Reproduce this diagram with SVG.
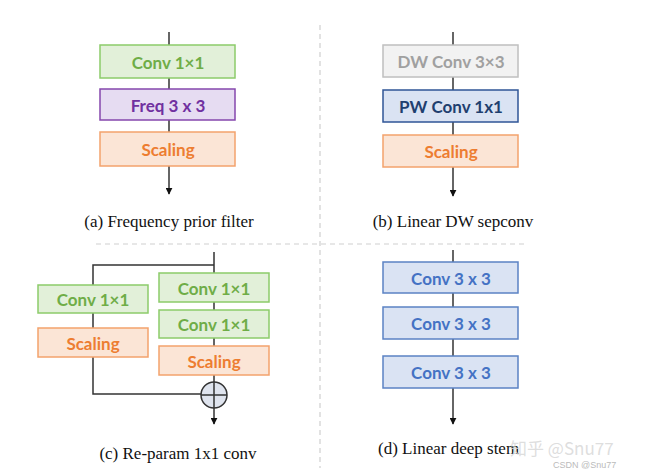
<svg xmlns="http://www.w3.org/2000/svg" width="650" height="473" viewBox="0 0 650 473">
<defs>
<marker id="arr" viewBox="0 0 10 10" refX="9" refY="5" markerWidth="7" markerHeight="7" markerUnits="userSpaceOnUse" orient="auto"><path d="M0,0 L10,5 L0,10 z" fill="#111"/></marker>
<style>
.lbl{font-family:Lato,"Open Sans",sans-serif;font-weight:bold;font-size:17px;text-anchor:middle;dominant-baseline:central}
.cap{font-family:"Liberation Serif",serif;font-size:17px;fill:#111}
.green rect{fill:#e2f0d9;stroke:#8ccb6a;stroke-width:1.5}
.green text{fill:#6fad47}
.purple rect{fill:#e6dcf2;stroke:#8547ad;stroke-width:1.5}
.purple text{fill:#7030a0}
.orange rect{fill:#fbe5d6;stroke:#f3a26c;stroke-width:1.5}
.orange text{fill:#ed7d31}
.gray rect{fill:#f2f2f2;stroke:#bfbfbf;stroke-width:1.5}
.gray text{fill:#a0a0a0}
.pw rect{fill:#dae3f3;stroke:#2f5597;stroke-width:1.5}
.pw text{fill:#1f3f6f}
.blue rect{fill:#dae3f3;stroke:#5b82c4;stroke-width:1.5}
.blue text{fill:#4472c4}
.ln{stroke:#333;stroke-width:1.5;fill:none}
.dash{stroke:#cfcfcf;stroke-width:1.2;stroke-dasharray:5 4;fill:none}
</style>
</defs>
<rect width="650" height="473" fill="#fff"/>
<line class="dash" x1="320" y1="25" x2="320" y2="468"/>
<line class="dash" x1="96" y1="244" x2="524" y2="244"/>
<g id="connectors">
<line class="ln" x1="169" y1="32" x2="169" y2="194" marker-end="url(#arr)"/>
<line class="ln" x1="453" y1="32" x2="453" y2="196" marker-end="url(#arr)"/>
<path class="ln" d="M214,252 V382 M93,285 V265 H214 M93,313 V394 H201"/>
<line class="ln" x1="214" y1="408" x2="214" y2="424" marker-end="url(#arr)"/>
<line class="ln" x1="453" y1="250" x2="453" y2="424" marker-end="url(#arr)"/>
</g>
<g id="a-conv" class="green"><rect x="100" y="45" width="135" height="33"/><text class="lbl" x="168" y="62">Conv 1×1</text></g>
<g id="a-freq" class="purple"><rect x="100" y="89" width="135" height="31"/><text class="lbl" x="168" y="105">Freq 3 x 3</text></g>
<g id="a-scale" class="orange"><rect x="100" y="132" width="135" height="34"/><text class="lbl" x="168" y="149">Scaling</text></g>
<text class="cap" x="169" y="227" text-anchor="middle">(a) Frequency prior filter</text>
<g id="b-dw" class="gray"><rect x="383" y="45" width="135" height="32"/><text class="lbl" x="451" y="61">DW Conv 3×3</text></g>
<g id="b-pw" class="pw"><rect x="383" y="90" width="135" height="32"/><text class="lbl" x="451" y="106">PW Conv 1x1</text></g>
<g id="b-scale" class="orange"><rect x="383" y="135" width="135" height="32"/><text class="lbl" x="451" y="151">Scaling</text></g>
<text class="cap" x="453" y="227" text-anchor="middle">(b) Linear DW sepconv</text>
<g id="c-lconv" class="green"><rect x="38" y="285" width="110" height="28"/><text class="lbl" x="93" y="299">Conv 1×1</text></g>
<g id="c-lscale" class="orange"><rect x="38" y="328" width="110" height="29"/><text class="lbl" x="93" y="343">Scaling</text></g>
<g id="c-rconv1" class="green"><rect x="159" y="273" width="110" height="29"/><text class="lbl" x="214" y="288">Conv 1×1</text></g>
<g id="c-rconv2" class="green"><rect x="159" y="310" width="110" height="28"/><text class="lbl" x="214" y="324">Conv 1×1</text></g>
<g id="c-rscale" class="orange"><rect x="159" y="346" width="110" height="29"/><text class="lbl" x="214" y="361">Scaling</text></g>
<g id="c-add"><circle cx="214" cy="395" r="13" fill="#dfe4ee" stroke="#333" stroke-width="1.5"/><path class="ln" d="M201,395 H227 M214,382 V408"/></g>
<text class="cap" x="178" y="459" text-anchor="middle">(c) Re-param 1x1 conv</text>
<g id="d-c1" class="blue"><rect x="383" y="262" width="135" height="31"/><text class="lbl" x="451" y="278">Conv 3 x 3</text></g>
<g id="d-c2" class="blue"><rect x="383" y="307" width="135" height="32"/><text class="lbl" x="451" y="323">Conv 3 x 3</text></g>
<g id="d-c3" class="blue"><rect x="383" y="356" width="135" height="32"/><text class="lbl" x="451" y="372">Conv 3 x 3</text></g>
<text class="cap" x="378" y="454">(d) Linear deep stem</text>
<text x="510" y="455" font-family="'Noto Sans CJK SC',sans-serif" font-size="17" fill="#d8d8d8" fill-opacity="0.85">知乎 @Snu77</text>
<text x="553" y="468" font-family="'Liberation Sans',sans-serif" font-size="9" fill="#bbbbbb">CSDN @Snu77</text>
</svg>
